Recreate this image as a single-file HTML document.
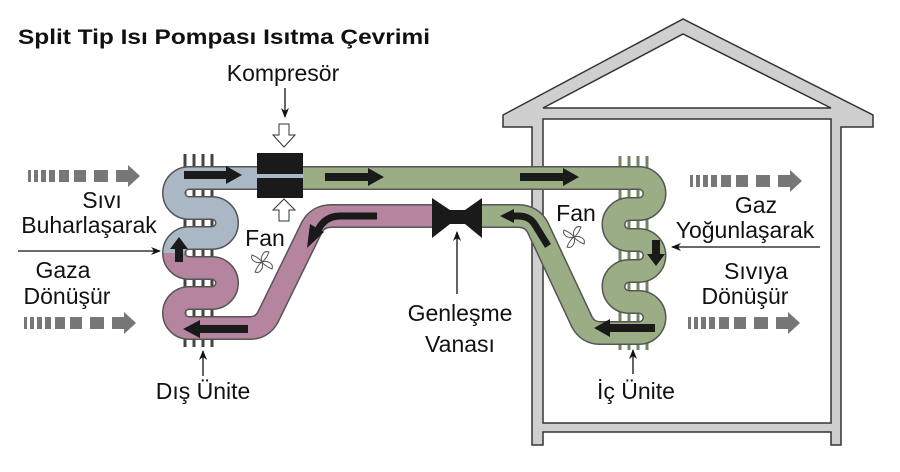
<!DOCTYPE html>
<html><head><meta charset="utf-8"><style>
html,body{margin:0;padding:0;background:#fff;}
svg{display:block}
text{font-family:"Liberation Sans",Arial,sans-serif;fill:#111}
</style></head><body>
<svg width="900" height="472" viewBox="0 0 900 472" xmlns="http://www.w3.org/2000/svg">
<defs>
<marker id="ah" markerWidth="10" markerHeight="10" refX="9" refY="5" orient="auto" markerUnits="userSpaceOnUse">
<path d="M0,1 L10,5 L0,9 L3,5 Z" fill="#111"/></marker>
</defs>
<!-- House -->
<path d="M503,115 L683,19 L873,115 L873,127 L841,127 L841,445 L831,445 L831,432 L543,432 L543,445 L532,445 L532,127 L503,127 Z" fill="#cfcfcf" stroke="#333" stroke-width="1.5"/>
<path d="M543,108 L683,34 L831,108 Z" fill="#fff" stroke="#333" stroke-width="1.5"/>
<rect x="543" y="119" width="288" height="304" fill="#fff" stroke="#333" stroke-width="1.5"/>

<text x="18" y="44" font-size="21" font-weight="bold" textLength="412" lengthAdjust="spacingAndGlyphs">Split Tip Isı Pompası Isıtma Çevrimi</text>

<!-- dashed flow arrows -->
<g fill="#777">
<g transform="translate(28,176)">
<rect x="0" y="-6" width="3" height="12"/><rect x="6" y="-6" width="4" height="12"/><rect x="13" y="-6" width="5" height="12"/><rect x="21" y="-6" width="6" height="12"/><rect x="31" y="-6" width="10" height="12"/><rect x="46" y="-6" width="12" height="12"/><rect x="66" y="-6" width="14" height="12"/><path d="M88,-6 L100,-6 L100,-11 L112,0 L100,11 L100,6 L88,6 Z"/></g>
<g transform="translate(24,323)">
<rect x="0" y="-6" width="3" height="12"/><rect x="6" y="-6" width="4" height="12"/><rect x="13" y="-6" width="5" height="12"/><rect x="21" y="-6" width="6" height="12"/><rect x="31" y="-6" width="10" height="12"/><rect x="46" y="-6" width="12" height="12"/><rect x="66" y="-6" width="14" height="12"/><path d="M88,-6 L100,-6 L100,-11 L112,0 L100,11 L100,6 L88,6 Z"/></g>
<g transform="translate(690,181)">
<rect x="0" y="-6" width="3" height="12"/><rect x="6" y="-6" width="4" height="12"/><rect x="13" y="-6" width="5" height="12"/><rect x="21" y="-6" width="6" height="12"/><rect x="31" y="-6" width="10" height="12"/><rect x="46" y="-6" width="12" height="12"/><rect x="66" y="-6" width="14" height="12"/><path d="M88,-6 L100,-6 L100,-11 L112,0 L100,11 L100,6 L88,6 Z"/></g>
<g transform="translate(688,323)">
<rect x="0" y="-6" width="3" height="12"/><rect x="6" y="-6" width="4" height="12"/><rect x="13" y="-6" width="5" height="12"/><rect x="21" y="-6" width="6" height="12"/><rect x="31" y="-6" width="10" height="12"/><rect x="46" y="-6" width="12" height="12"/><rect x="66" y="-6" width="14" height="12"/><path d="M88,-6 L100,-6 L100,-11 L112,0 L100,11 L100,6 L88,6 Z"/></g>
</g>

<!-- fins -->
<g stroke="#444" stroke-width="3">
<line x1="185" y1="154" x2="185" y2="347"/><line x1="194" y1="154" x2="194" y2="347"/><line x1="203" y1="154" x2="203" y2="347"/><line x1="212" y1="154" x2="212" y2="347"/>
</g>
<g stroke="#6f8660" stroke-width="3">
<line x1="620" y1="156" x2="620" y2="350"/><line x1="629" y1="156" x2="629" y2="350"/><line x1="638" y1="156" x2="638" y2="350"/><line x1="647" y1="156" x2="647" y2="350"/>
</g>

<!-- pipes -->
<g fill="none" stroke-linejoin="round">
<path d="M300,178 L639,178 A15.5,15.5 0 0 1 639,209 L629,209 A15.5,15.5 0 0 0 629,240 L639,240 A15.5,15.5 0 0 1 639,271 L629,271 A15.5,15.5 0 0 0 629,302 L639,302 A15.5,15.5 0 0 1 639,333 L600,333 Q588,333 582,322 L538,228 Q532,216 518,216 L480,216" stroke="#555" stroke-width="24"/>
<path d="M300,178 L639,178 A15.5,15.5 0 0 1 639,209 L629,209 A15.5,15.5 0 0 0 629,240 L639,240 A15.5,15.5 0 0 1 639,271 L629,271 A15.5,15.5 0 0 0 629,302 L639,302 A15.5,15.5 0 0 1 639,333 L600,333 Q588,333 582,322 L538,228 Q532,216 518,216 L480,216" stroke="#9aad84" stroke-width="21"/>
<path d="M258,178 L189,178 A15,15 0 0 0 189,208 L212,208 A15,15 0 0 1 212,238 L189,238 A15,15 0 0 0 189,268 L212,268 A15,15 0 0 1 212,298 L189,298 A15,15 0 0 0 189,328 L250,328 Q262,328 268,317 L312,227 Q318,216 332,216 L436,216" stroke="#555" stroke-width="24"/>
<path d="M174,253 A15,15 0 0 0 189,268 L212,268 A15,15 0 0 1 212,298 L189,298 A15,15 0 0 0 189,328 L250,328 Q262,328 268,317 L312,227 Q318,216 332,216 L436,216" stroke="#b5849f" stroke-width="21"/>
<path d="M258,178 L189,178 A15,15 0 0 0 189,208 L212,208 A15,15 0 0 1 212,238 L189,238 A15,15 0 0 0 174,253" stroke="#a9b8c4" stroke-width="21"/>
</g>

<!-- compressor -->
<rect x="257" y="153" width="46" height="45" fill="#1a1a1a"/>
<rect x="257" y="174" width="46" height="4" fill="#a9b8c4"/>
<!-- valve -->
<path d="M432,198 L450,210 L465,210 L482,198 L482,238 L465,224 L450,224 L432,238 Z" fill="#1a1a1a"/>

<!-- flow arrows -->
<g fill="#1a1a1a">
<path d="M184,171 L226,171 L226,166 L242,175 L226,184 L226,179 L184,179 Z"/>
<path d="M325,173 L368,173 L368,168 L384,177 L368,186 L368,181 L325,181 Z"/>
<path d="M520,173 L563,173 L563,168 L579,177 L563,186 L563,181 L520,181 Z"/>
<path d="M175,262 L175,249 L170,249 L179,237 L188,249 L183,249 L183,262 Z"/>
<path d="M652,240 L652,254 L647,254 L656,266 L665,254 L660,254 L660,240 Z"/>
<path d="M248,325 L200,325 L200,320 L183,329 L200,338 L200,333 L248,333 Z"/>
<path d="M655,324 L610,324 L610,319 L594,328 L610,337 L610,332 L655,332 Z"/>
</g>
<g fill="none" stroke="#1a1a1a" stroke-width="7">
<path d="M377,216 L340,216 Q325,216 318,230"/>
<path d="M548,246 L535,225 Q530,216 518,216 L512,216"/>
</g>
<path d="M310,224 L324,232 L307,248 Z" fill="#1a1a1a"/>
<path d="M514,209 L514,223 L500,216 Z" fill="#1a1a1a"/>

<!-- Kompresör -->
<text x="283" y="81" font-size="23" text-anchor="middle">Kompresör</text>
<line x1="285" y1="88" x2="285" y2="117" stroke="#111" stroke-width="1.3" marker-end="url(#ah)"/>
<path d="M279,124 L289,124 L289,135 L295,135 L284,147 L273,135 L279,135 Z" fill="#fff" stroke="#333" stroke-width="1"/>
<path d="M279,221 L289,221 L289,210 L295,210 L284,199 L273,210 L279,210 Z" fill="#fff" stroke="#333" stroke-width="1"/>
<text x="265" y="246" font-size="23" text-anchor="middle">Fan</text>
<g fill="#fff" stroke="#555" stroke-width="1">
<g transform="translate(262,262)"><path d="M0,0 C-2,-6 2,-12 7,-10 C5,-5 3,-2 0,0 Z"/><path d="M0,0 C6,-2 12,2 10,7 C5,5 2,3 0,0 Z"/><path d="M0,0 C2,6 -2,12 -7,10 C-5,5 -3,2 0,0 Z"/><path d="M0,0 C-6,2 -12,-2 -10,-7 C-5,-5 -2,-3 0,0 Z"/></g>
<g transform="translate(574,237)"><path d="M0,0 C-2,-6 2,-12 7,-10 C5,-5 3,-2 0,0 Z"/><path d="M0,0 C6,-2 12,2 10,7 C5,5 2,3 0,0 Z"/><path d="M0,0 C2,6 -2,12 -7,10 C-5,5 -3,2 0,0 Z"/><path d="M0,0 C-6,2 -12,-2 -10,-7 C-5,-5 -2,-3 0,0 Z"/></g>
</g>
<text x="576" y="221" font-size="23" text-anchor="middle">Fan</text>

<!-- left labels -->
<text x="102" y="208" font-size="23" text-anchor="middle">Sıvı</text>
<text x="89" y="233" font-size="23" text-anchor="middle">Buharlaşarak</text>
<line x1="18" y1="251" x2="160" y2="251" stroke="#111" stroke-width="1.3" marker-end="url(#ah)"/>
<text x="63" y="278" font-size="23" text-anchor="middle">Gaza</text>
<text x="67" y="304" font-size="23" text-anchor="middle">Dönüşür</text>

<!-- right labels -->
<text x="756" y="213" font-size="23" text-anchor="middle">Gaz</text>
<text x="745" y="238" font-size="23" text-anchor="middle">Yoğunlaşarak</text>
<line x1="820" y1="247" x2="672" y2="247" stroke="#111" stroke-width="1.3" marker-end="url(#ah)"/>
<text x="756" y="279" font-size="23" text-anchor="middle">Sıvıya</text>
<text x="745" y="304" font-size="23" text-anchor="middle">Dönüşür</text>

<!-- valve label -->
<line x1="457" y1="294" x2="457" y2="232" stroke="#111" stroke-width="1.3" marker-end="url(#ah)"/>
<text x="460" y="321" font-size="23" text-anchor="middle">Genleşme</text>
<text x="460" y="352" font-size="23" text-anchor="middle">Vanası</text>

<!-- unit labels -->
<line x1="203" y1="376" x2="203" y2="351" stroke="#111" stroke-width="1.3" marker-end="url(#ah)"/>
<text x="203" y="399" font-size="23" text-anchor="middle">Dış Ünite</text>
<line x1="633" y1="374" x2="633" y2="350" stroke="#111" stroke-width="1.3" marker-end="url(#ah)"/>
<text x="636" y="399" font-size="23" text-anchor="middle">İç Ünite</text>
</svg>
</body></html>
